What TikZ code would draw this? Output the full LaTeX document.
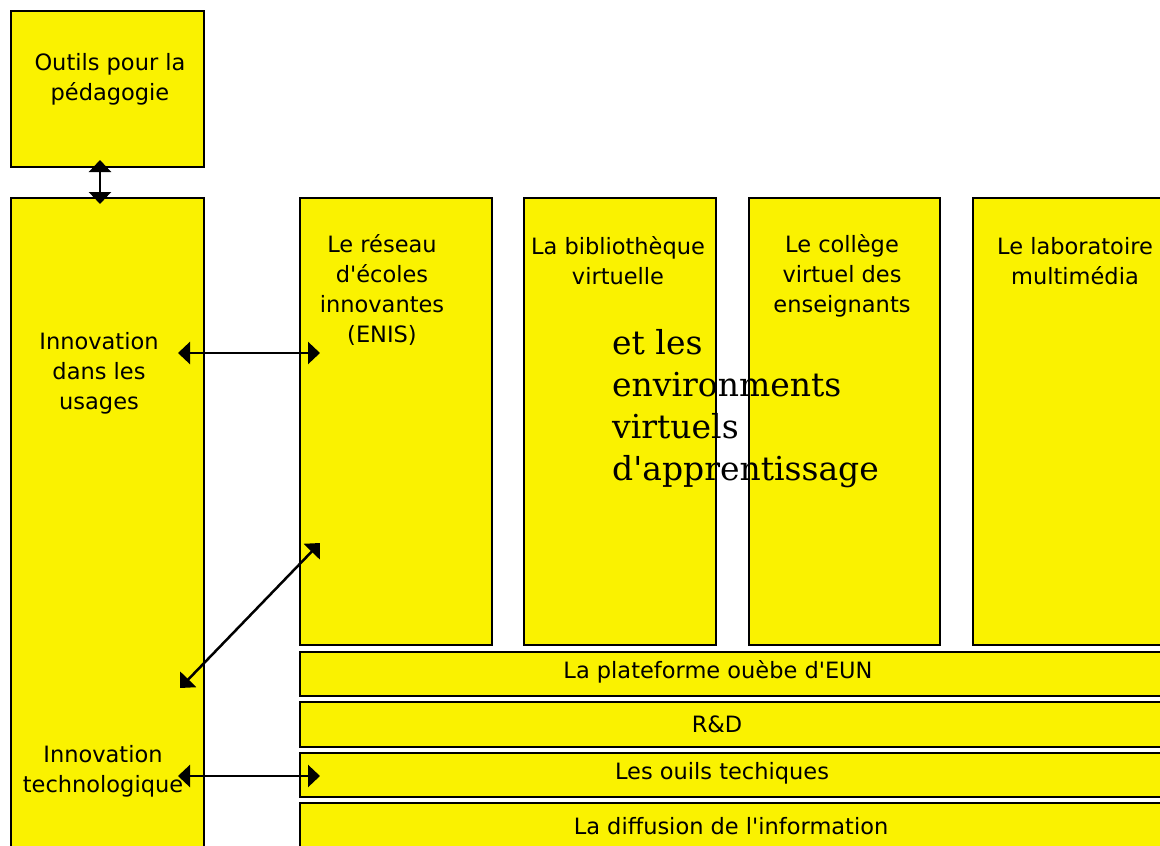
\documentclass[tikz,border=0pt]{standalone}
\usepackage{fontspec}
\setmainfont{DejaVu Sans}
\newfontfamily\serifbig{DejaVu Serif}
\usetikzlibrary{arrows.meta, positioning}
\definecolor{boxyellow}{RGB}{250,242,0}
\tikzstyle{box}=[draw, line width=2.5pt, fill=boxyellow, anchor=north west, inner sep=0pt, outer sep=0pt]
\tikzstyle{boxtext}=[align=center, inner sep=0pt, font=\fontsize{22.5}{30}\selectfont]
\tikzstyle{bandtext}=[inner sep=0pt, font=\fontsize{22.5}{26}\selectfont]
\tikzstyle{link}=[line width=2.5pt, {Triangle[width=22pt,length=12pt]}-{Triangle[width=22pt,length=12pt]}]

\begin{document}
\begin{tikzpicture}[x=1pt, y=-1pt]
    \useasboundingbox (0,0) rectangle (1160,846);

    % left column
    \node (outils)[box, minimum width=193pt, minimum height=156pt] at (11,11) {};
    \node (innov)[box, minimum width=193pt, minimum height=680pt] at (11,198) {};
    \node[boxtext] (outilsT) at (110,79) {Outils pour la\\p\'edagogie};
    \node[boxtext] (usagesT) at (99,373) {Innovation\\dans les\\usages};
    \node[boxtext] (techT) at (103,771) {Innovation\\technologique};

    % columns
    \node (reseau)[box, minimum width=192pt, minimum height=447pt] at (300,198) {};
    \node (biblio)[box, minimum width=192pt, minimum height=447pt] at (524,198) {};
    \node (college)[box, minimum width=191pt, minimum height=447pt] at (749,198) {};
    \node (labo)[box, minimum width=220pt, minimum height=447pt] at (973,198) {};
    \node[boxtext] (reseauT) at (382,290) {Le r\'eseau\\d\textquotesingle\'ecoles\\innovantes\\(ENIS)};
    \node[boxtext] (biblioT) at (618,261) {La biblioth\`eque\\virtuelle};
    \node[boxtext] (collegeT) at (842,276) {Le coll\`ege\\virtuel des\\enseignants};
    \node[boxtext] (laboT) at (1075,261) {Le laboratoire\\multim\'edia};

    % bands
    \node (plate)[box, minimum width=900pt, minimum height=44pt] at (300,652) {};
    \node (rd)[box, minimum width=900pt, minimum height=45pt] at (300,702) {};
    \node (outilsTech)[box, minimum width=900pt, minimum height=44pt] at (300,753) {};
    \node (diffusion)[box, minimum width=900pt, minimum height=60pt] at (300,803) {};
    \node[bandtext] (plateT) at (718,672) {La plateforme ou\`ebe d\textquotesingle EUN};
    \node[bandtext] (rdT) at (717,724) {R\&D};
    \node[bandtext] (outilsTechT) at (722,773) {Les ouils techiques};
    \node[bandtext] (diffusionT) at (731,826) {La diffusion de l\textquotesingle information};

    \node[align=left, anchor=north west, inner sep=0pt, font=\serifbig\fontsize{33}{42}\selectfont] (envT) at (612,329)
        {et les\\environments\\virtuels\\d'apprentissage};

    % arrows
    \coordinate (a1) at (100,160);
    \coordinate (a2) at (100,204);
    \coordinate (b1) at (178,353);
    \coordinate (b2) at (320,353);
    \coordinate (c1) at (180,688);
    \coordinate (c2) at (320,543);
    \coordinate (d1) at (178,776);
    \coordinate (d2) at (320,776);
    \draw[link] (a1) -- (a2);
    \draw[link] (b1) -- (b2);
    \draw[link] (c1) -- (c2);
    \draw[link] (d1) -- (d2);

\end{tikzpicture}
\end{document}
